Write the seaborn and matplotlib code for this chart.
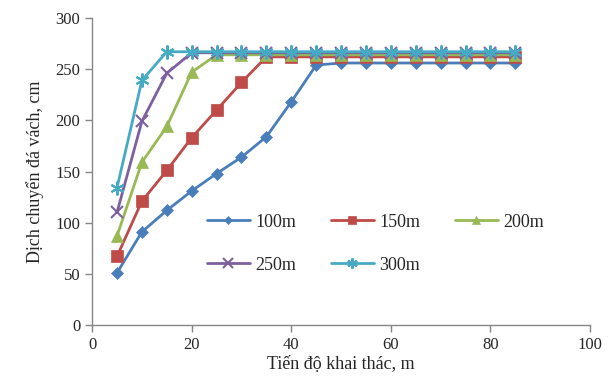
import numpy as np
import pandas as pd
import seaborn as sns
import matplotlib
matplotlib.use("Agg")
import matplotlib.pyplot as plt

x = [5, 10, 15, 20, 25, 30, 35, 40, 45, 50, 55, 60, 65, 70, 75, 80, 85]
s100 = [51, 91, 112, 131, 148, 164, 184, 218, 254, 256, 256, 256, 256, 256, 256, 256, 256]
s150 = [67, 121, 151, 183, 210, 237, 262, 262, 262, 262, 262, 262, 262, 262, 262, 262, 262]
s200 = [87, 159, 194, 247, 264, 264, 264, 264, 264, 264, 264, 264, 264, 264, 264, 264, 264]
s250 = [110, 199, 246, 266, 266, 266, 266, 266, 266, 266, 266, 266, 266, 266, 266, 266, 266]
s300 = [134, 239, 267, 267, 267, 267, 267, 267, 267, 267, 267, 267, 267, 267, 267, 267, 267]
series_names = ["100m", "150m", "200m", "250m", "300m"]
series_values = [s100, s150, s200, s250, s300]

colors = ["#4A7EBB", "#BE4B48", "#98B954", "#7D60A0", "#46AAC5"]
markers = ["D", "s", "^", "x", (6, 2, 0)]
msizes = [6, 8, 8, 9, 10]

rows = []
for name, vals in zip(series_names, series_values):
    for xi, yi in zip(x, vals):
        rows.append({"x": xi, "y": yi, "series": name})
df = pd.DataFrame(rows)

sns.set_style("white")
plt.rcParams["font.family"] = ["Liberation Serif", "DejaVu Serif"]

fig = plt.figure(figsize=(6.14, 3.82), dpi=100)
ax = fig.add_axes([0.150, 0.149, 0.811, 0.804])

for name, c, m, ms in zip(series_names, colors, markers, msizes):
    sub = df[df["series"] == name]
    sns.lineplot(data=sub, x="x", y="y", ax=ax, color=c, marker=m, markersize=ms,
                 linewidth=2, markeredgecolor=c, markeredgewidth=1.5 if m in ("x", (6, 2, 0)) else 0.5,
                 label=name)

ax.set_xlim(0, 100)
ax.set_ylim(0, 300)
ax.set_xticks(range(0, 101, 20))
ax.set_yticks(range(0, 301, 50))
for s in ["top", "right"]:
    ax.spines[s].set_visible(False)
for s in ["left", "bottom"]:
    ax.spines[s].set_color("#868686")
    ax.spines[s].set_linewidth(1)
ax.tick_params(axis="both", direction="out", length=5, width=1, color="#868686",
               labelsize=12, bottom=True, left=True)
ax.set_xlabel("Tiến độ khai thác, m", fontsize=13, labelpad=2)
ax.set_ylabel("Dịch chuyển đá vách, cm", fontsize=13, labelpad=8)

handles, labels = ax.get_legend_handles_labels()
order = [0, 3, 1, 4, 2]
leg = ax.legend([handles[i] for i in order], [labels[i] for i in order],
                loc="upper left", bbox_to_anchor=(0.325, 0.46), bbox_transform=fig.transFigure,
                ncol=3, frameon=False, fontsize=13, handlelength=2.4, handletextpad=0.3,
                columnspacing=1.9, labelspacing=1.45, borderaxespad=0, markerscale=0.75)

fig.savefig("out.png", dpi=100)
